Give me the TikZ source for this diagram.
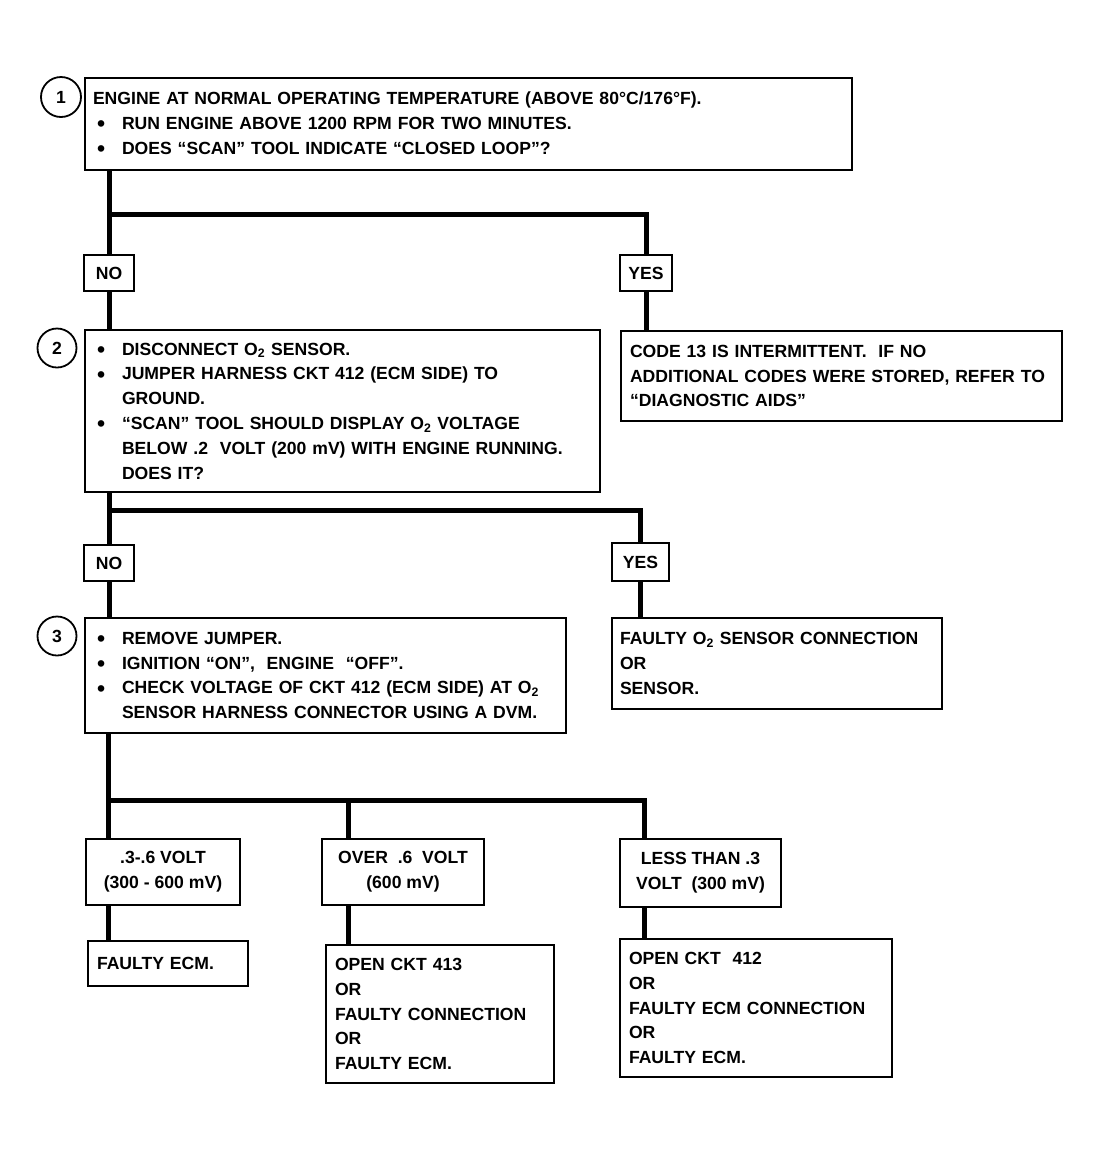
\documentclass[tikz,border=0pt]{standalone}
\usepackage{fontspec}
\setmainfont{Liberation Sans}
\usetikzlibrary{calc}
\newcommand{\bl}{\makebox[29pt][l]{\hspace*{4pt}\raisebox{-2.2pt}{\fontsize{23}{23}\selectfont\textbullet}}}
\newcommand{\ind}{\hspace*{29pt}}
\newcommand{\Otwo}{O\textsubscript{2}}
\begin{document}
\begin{tikzpicture}[x=1pt,y=-1pt,
  txt/.style={font=\fontsize{17.6}{24.8}\selectfont\bfseries},
  box/.style={txt, draw, line width=1.6pt, rectangle, inner sep=0pt, align=left},
  cbox/.style={txt, draw, line width=1.6pt, rectangle, inner sep=0pt, align=center},
  circ/.style={txt, draw, circle, line width=1.8pt, inner sep=0pt, minimum size=39pt},
  conn/.style={line width=5pt, line join=miter}]
\useasboundingbox (0,0) rectangle (1100,1160);
% step 1
\node[box, minimum width=767pt, minimum height=92pt, text width=751pt] (b1) at (468.5,124)
 {ENGINE AT NORMAL OPERATING TEMPERATURE (ABOVE 80°C/176°F).\\
  \bl RUN ENGINE ABOVE 1200 RPM FOR TWO MINUTES.\\
  \bl DOES “SCAN” TOOL INDICATE “CLOSED LOOP”?};
\node[circ, minimum size=40pt] (n1) at (61,97) {1};
\node[cbox, minimum width=50pt, minimum height=36pt] (no1) at (109,273) {NO};
\node[cbox, minimum width=52pt, minimum height=36pt] (yes1) at (646,273) {YES};
% step 2
\node[box, minimum width=515pt, minimum height=162pt, text width=499pt] (b2) at (342.5,411)
 {\bl DISCONNECT \Otwo{} SENSOR.\\
  \bl JUMPER HARNESS CKT 412 (ECM SIDE) TO\\
  \ind GROUND.\\
  \bl “SCAN” TOOL SHOULD DISPLAY \Otwo{} VOLTAGE\\
  \ind BELOW .2 \ VOLT (200 mV) WITH ENGINE RUNNING.\\
  \ind DOES IT?};
\node[circ] (n2) at (57,348) {2};
\node[box, minimum width=441pt, minimum height=90pt, text width=423pt] (c13) at (841.5,376)
 {CODE 13 IS INTERMITTENT. \ IF NO\\
  ADDITIONAL CODES WERE STORED, REFER TO\\
  “DIAGNOSTIC AIDS”};
\node[cbox, minimum width=50pt, minimum height=36pt] (no2) at (109,563) {NO};
\node[cbox, minimum width=57pt, minimum height=38pt] (yes2) at (640.5,562) {YES};
% step 3
\node[box, minimum width=481pt, minimum height=115pt, text width=465pt] (b3) at (325.5,675.5)
 {\bl REMOVE JUMPER.\\
  \bl IGNITION “ON”, \ ENGINE \ “OFF”.\\
  \bl CHECK VOLTAGE OF CKT 412 (ECM SIDE) AT \Otwo\\
  \ind SENSOR HARNESS CONNECTOR USING A DVM.};
\node[circ] (n3) at (57,636) {3};
\node[box, minimum width=330pt, minimum height=91pt, text width=314pt] (o2) at (777,663.5)
 {FAULTY \Otwo{} SENSOR CONNECTION\\ OR\\ SENSOR.};
% results
\node[cbox, minimum width=154pt, minimum height=66pt] (r1) at (163,872) {.3-.6 VOLT\\(300 - 600 mV)};
\node[cbox, minimum width=162pt, minimum height=66pt] (r2) at (403,872) {OVER \ .6 \ VOLT\\(600 mV)};
\node[cbox, minimum width=161pt, minimum height=68pt] (r3) at (700.5,873) {LESS THAN .3\\VOLT \ (300 mV)};
\node[box, minimum width=160pt, minimum height=45pt, text width=142pt] (e1) at (168,963.5) {FAULTY ECM.};
\node[box, minimum width=228pt, minimum height=138pt, text width=210pt] (e2) at (440,1014)
 {OPEN CKT 413\\ OR\\ FAULTY CONNECTION\\ OR\\ FAULTY ECM.};
\node[box, minimum width=272pt, minimum height=138pt, text width=254pt] (e3) at (756,1008)
 {OPEN CKT \ 412\\ OR\\ FAULTY ECM CONNECTION\\ OR\\ FAULTY ECM.};
% connector coordinates
\coordinate (bar1) at (0,214);
\coordinate (bar2) at (0,510);
\coordinate (k1) at (108,800);
\coordinate (k2) at (348,800);
\coordinate (k3) at (644,800);
% connectors
\draw[conn] (no1.north |- b1.south) -- (no1.north);
\draw[conn] (no1.north |- bar1) -| (yes1.north);
\draw[conn] (no1.south) -- (no1.south |- b2.north);
\draw[conn] (yes1.south) -- (yes1.south |- c13.north);
\draw[conn] (no2.north |- b2.south) -- (no2.north);
\draw[conn] (no2.north |- bar2) -| (yes2.north);
\draw[conn] (no2.south) -- (no2.south |- b3.north);
\draw[conn] (yes2.south) -- (yes2.south |- o2.north);
\draw[conn] (k1 |- b3.south) -- (k1 |- r1.north);
\draw[conn] (k1) -- (k3) -- (k3 |- r3.north);
\draw[conn] (k2) -- (k2 |- r2.north);
\draw[conn] (k1 |- r1.south) -- (k1 |- e1.north);
\draw[conn] (k2 |- r2.south) -- (k2 |- e2.north);
\draw[conn] (k3 |- r3.south) -- (k3 |- e3.north);
\end{tikzpicture}
\end{document}
